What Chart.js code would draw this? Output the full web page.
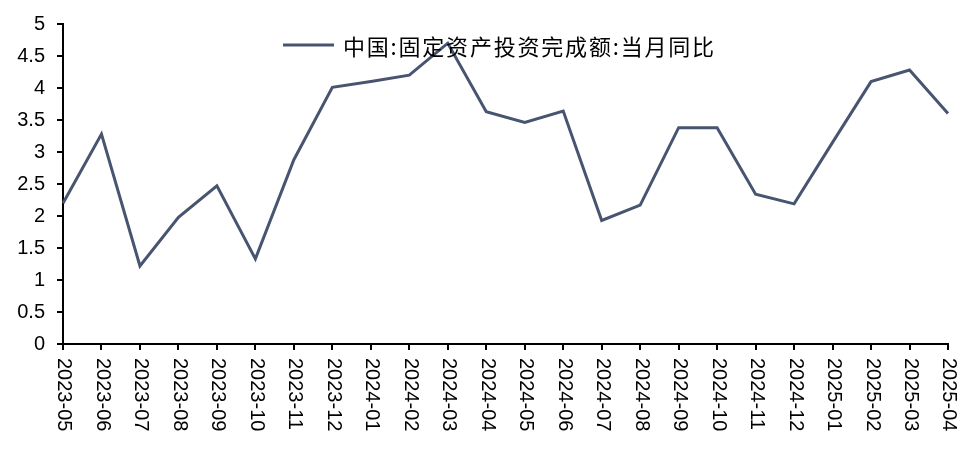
<!DOCTYPE html>
<html>
<head>
<meta charset="utf-8">
<script src="https://cdn.jsdelivr.net/npm/chart.js@4/dist/chart.umd.min.js"></script>
<style>
  html,body{margin:0;padding:0;background:#fff;}
  #wrap{width:970px;height:450px;}
</style>
</head>
<body>
<div id="wrap"><canvas id="grafico" width="970" height="450"></canvas></div>
<script>
const months = ["2023-05","2023-06","2023-07","2023-08","2023-09","2023-10","2023-11","2023-12",
  "2024-01","2024-02","2024-03","2024-04","2024-05","2024-06","2024-07","2024-08","2024-09",
  "2024-10","2024-11","2024-12","2025-01","2025-02","2025-03","2025-04"];
const fai = [2.2,3.28,1.22,1.98,2.47,1.33,2.88,4.01,
  4.1,4.2,4.7,3.63,3.46,3.64,1.93,2.17,3.38,
  3.38,2.34,2.19,3.15,4.1,4.28,3.6];
const seriesName = "中国:固定资产投资完成额:当月同比";
const yTicks = [0,0.5,1,1.5,2,2.5,3,3.5,4,4.5,5];

const lineColor = '#485570';
const numFont = '"Liberation Sans", Arial, sans-serif';
const cjkFont = '"Noto Sans CJK SC", "Liberation Sans", sans-serif';

// x labels read top-to-bottom, so draw them ourselves
const xLabels = {
  id:'xLabels',
  afterDraw(chart){
    const ctx = chart.ctx, xs = chart.scales.x;
    ctx.save();
    ctx.font = '20px ' + numFont;
    ctx.fillStyle = '#000';
    ctx.textAlign = 'left';
    ctx.textBaseline = 'middle';
    months.forEach((m,i)=>{
      const x = xs.getPixelForValue(i);
      ctx.save();
      ctx.translate(x + 1, xs.top + 14);
      ctx.rotate(Math.PI/2);
      ctx.fillText(m, 0, 0);
      ctx.restore();
    });
    ctx.restore();
  }
};

const legendOverlay = {
  id:'legendOverlay',
  afterDraw(chart){
    const ctx = chart.ctx;
    const ds = chart.data.datasets[0];
    ctx.save();
    ctx.strokeStyle = lineColor;
    ctx.lineWidth = 3;
    ctx.beginPath();
    ctx.moveTo(283,45);
    ctx.lineTo(334,45);
    ctx.stroke();
    ctx.font = '22px ' + cjkFont;
    ctx.letterSpacing = '1.8px';
    ctx.fillStyle = '#000';
    ctx.textBaseline = 'middle';
    ctx.fillText(ds.label, 343, 47);
    ctx.restore();
  }
};

new Chart(grafico, {
  type:'line',
  data:{
    labels: months,
    datasets:[{
      label: seriesName,
      data: fai,
      borderColor: lineColor,
      borderWidth: 3,
      pointRadius: 0,
      tension: 0,
      fill: false
    }]
  },
  options:{
    responsive:false,
    animation:false,
    layout:{padding:{top:21,right:22,left:0,bottom:0}},
    plugins:{legend:{display:false}, tooltip:{enabled:false}},
    scales:{
      x:{
        offset:false,
        grid:{drawOnChartArea:false, drawTicks:true, tickLength:6, color:'#000', lineWidth:2},
        border:{color:'#000', width:2},
        ticks:{display:false},
        afterFit(s){ s.height = 106; }
      },
      y:{
        min:0, max:5,
        afterBuildTicks(s){ s.ticks = yTicks.map(v=>({value:v})); },
        grid:{drawOnChartArea:false, drawTicks:true, tickLength:6, color:'#000', lineWidth:2},
        border:{color:'#000', width:2},
        ticks:{color:'#000', font:{size:20, family:numFont}, padding:12,
          callback:v=>String(v)},
        afterFit(s){ s.width = 63; }
      }
    }
  },
  plugins:[xLabels, legendOverlay]
});
</script>
</body>
</html>
